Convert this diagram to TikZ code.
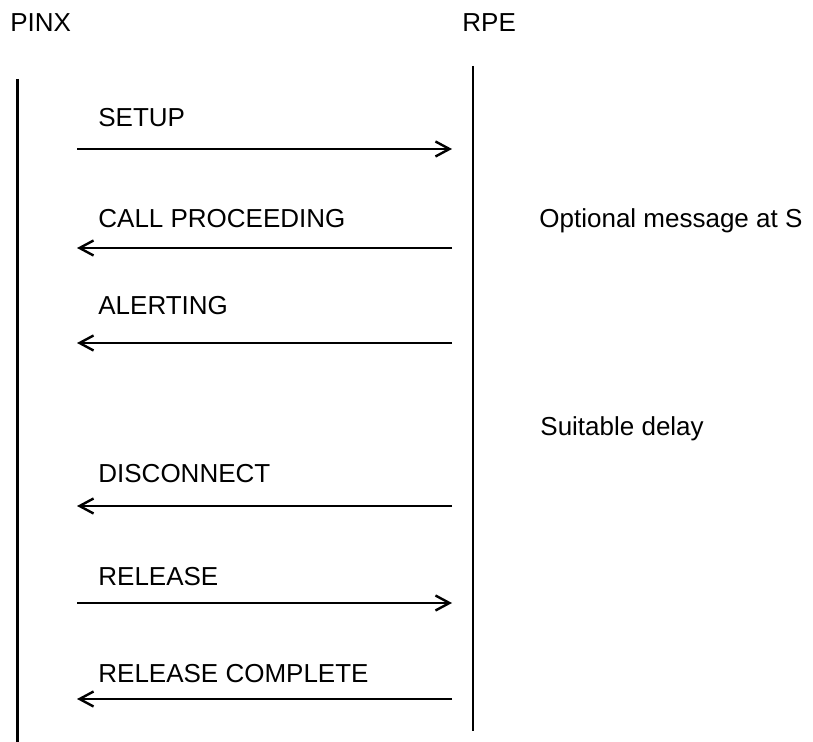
\documentclass[tikz,border=0pt]{standalone}
\usepackage{fontspec}
\setmainfont{Liberation Sans}
\usetikzlibrary{arrows.meta}

\begin{document}
\begin{tikzpicture}[x=0.5pt,y=-0.5pt,
    every node/.style={inner sep=0pt,anchor=base west,font=\fontsize{13}{15}\selectfont},
    life/.style={line width=1.2pt},
    msg/.style={line width=1.2pt,-{Straight Barb[length=7pt,width=7.5pt]}},
  ]
  \useasboundingbox (0,0) rectangle (813,742);
  % the two parties
  \node(pinx) at (10,32) {PINX};
  \node(rpe) at (462,32) {RPE};
  \coordinate (pinxTop) at (17.5,79);
  \coordinate (pinxBot) at (17.5,742);
  \coordinate (rpeTop) at (473,66);
  \coordinate (rpeBot) at (473,731);
  \draw[life] (pinxTop) -- (pinxBot);
  \draw[life] (rpeTop) -- (rpeBot);

  % messages
  \node(setup) at (98,127) {SETUP};
  \coordinate (setupL) at (77,149);
  \coordinate (setupR) at (452,149);
  \draw[msg] (setupL) -- (setupR);

  \node(callproc) at (98,228) {CALL PROCEEDING};
  \coordinate (callprocL) at (77,248);
  \coordinate (callprocR) at (452,248);
  \draw[msg] (callprocR) -- (callprocL);

  \node(alerting) at (98,315) {ALERTING};
  \coordinate (alertingL) at (77,343);
  \coordinate (alertingR) at (452,343);
  \draw[msg] (alertingR) -- (alertingL);

  \node(disc) at (98,482) {DISCONNECT};
  \coordinate (discL) at (77,506);
  \coordinate (discR) at (452,506);
  \draw[msg] (discR) -- (discL);

  \node(release) at (98,585) {RELEASE};
  \coordinate (releaseL) at (77,603);
  \coordinate (releaseR) at (452,603);
  \draw[msg] (releaseL) -- (releaseR);

  \node(relcomp) at (98,682) {RELEASE COMPLETE};
  \coordinate (relcompL) at (77,699);
  \coordinate (relcompR) at (452,699);
  \draw[msg] (relcompR) -- (relcompL);

  % notes on the right
  \node(optional) at (539,228) {Optional message at S};
  \node(delay) at (540,436) {Suitable delay};
\end{tikzpicture}
\end{document}
